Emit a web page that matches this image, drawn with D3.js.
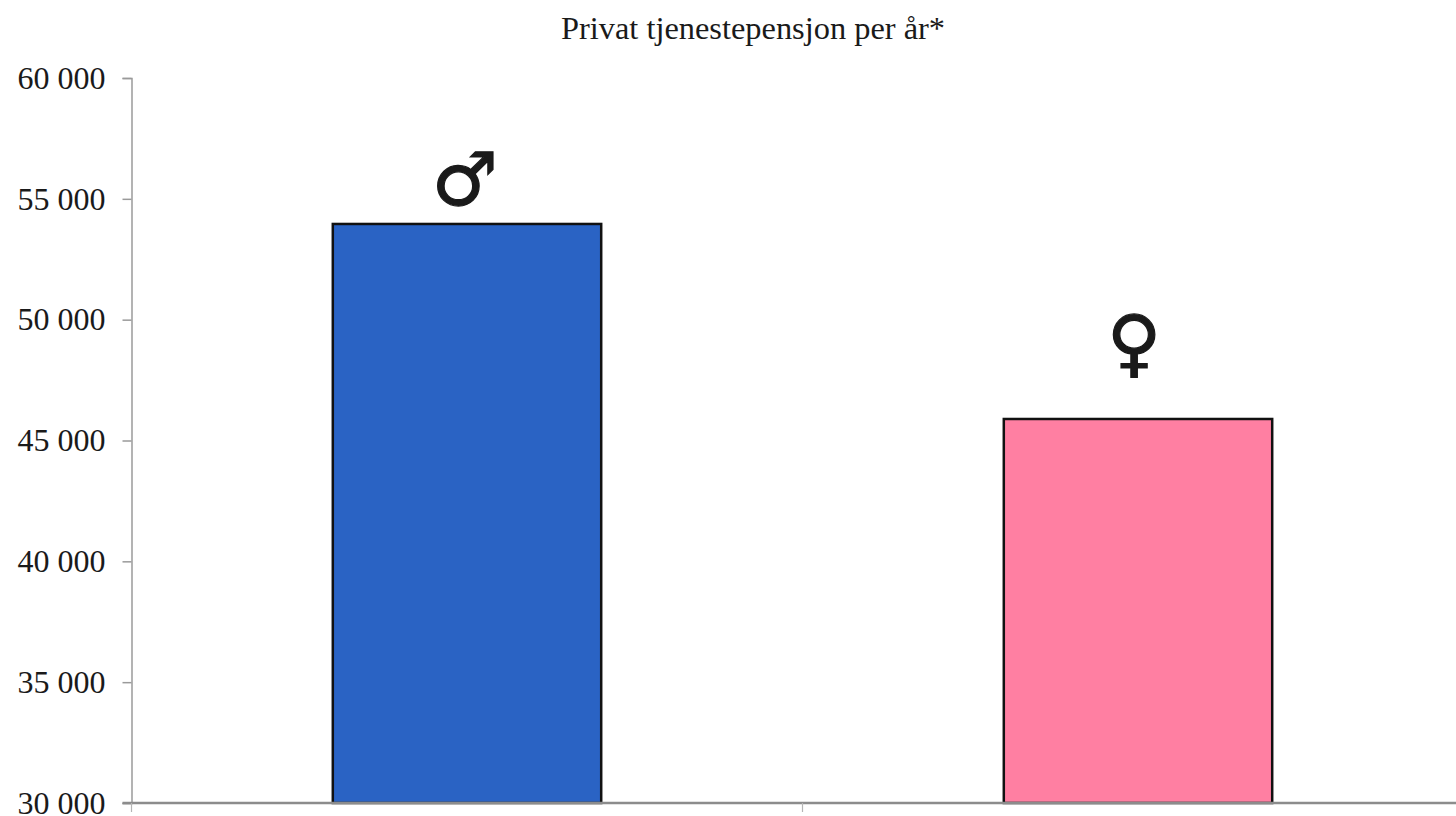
<!DOCTYPE html>
<html>
<head>
<meta charset="utf-8">
<script src="https://cdn.jsdelivr.net/npm/d3@7"></script>
<style>
html, body { margin: 0; padding: 0; background: #fff; overflow: hidden; }
text { font-family: "Liberation Serif", serif; fill: #1a1a1a; }
</style>
</head>
<body>
<svg></svg>
<script>
// data
var categories = ["Menn", "Kvinner"];
var values = [53960, 45890];
var symbols = ["\u2642", "\u2640"];
var colors = ["#2a63c4", "#ff7fa2"];
var yTicks = [30000, 35000, 40000, 45000, 50000, 55000, 60000];
var title = "Privat tjenestepensjon per år*";

var svgWidth = 1456;
var svgHeight = 816;
var axisX = 131.5;
var yTop = 78;
var yBottom = 803;

var svg = d3.select("svg")
   .attr("width", svgWidth)
   .attr("height", svgHeight);

var x = d3.scaleBand()
   .domain(categories)
   .range([axisX, axisX + 1342])
   .paddingInner(0.6)
   .paddingOuter(0.3);

var y = d3.scaleLinear()
   .domain([30000, 60000])
   .range([yBottom, yTop]);

var fmt = function(d) {
   return d3.format(",")(d).replace(",", " ");
};

svg.append("text")
   .attr("x", 753)
   .attr("y", 39)
   .attr("text-anchor", "middle")
   .style("font-size", "32.4px")
   .text(title);

// bars
svg.selectAll("rect.bar")
   .data(categories)
   .enter()
   .append("rect")
   .attr("class", "bar")
   .attr("x", function(d) { return x(d); })
   .attr("y", function(d, i) { return y(values[i]); })
   .attr("width", x.bandwidth())
   .attr("height", function(d, i) { return yBottom - y(values[i]); })
   .attr("fill", function(d, i) { return colors[i]; })
   .attr("stroke", "#111")
   .attr("stroke-width", 2.5);

// y axis
var yAxis = svg.append("g")
   .attr("transform", "translate(" + axisX + ",0)")
   .call(d3.axisLeft(y).tickValues(yTicks).tickFormat(fmt).tickSize(9).tickPadding(17));
yAxis.selectAll("path, line").attr("stroke", "#9a9a9a").attr("stroke-width", 1.5);
yAxis.selectAll("text")
   .style("font-size", "32px")
   .attr("dy", "0.32em");

// x axis line with the tick between the bars
var xAxis = svg.append("g").attr("transform", "translate(0," + yBottom + ")");
xAxis.append("line")
   .attr("x1", axisX - 9).attr("x2", svgWidth)
   .attr("stroke", "#8c8c8c").attr("stroke-width", 2.5);
xAxis.selectAll("line.tick")
   .data([axisX, (x(categories[0]) + x(categories[1]) + x.bandwidth()) / 2])
   .enter()
   .append("line")
   .attr("class", "tick")
   .attr("x1", function(d) { return d; })
   .attr("x2", function(d) { return d; })
   .attr("y1", 0).attr("y2", 9)
   .attr("stroke", "#b5b5b5").attr("stroke-width", 1.2);

// gender symbols above the bars, the female one sits higher over its bar
svg.selectAll("text.symbol")
   .data(categories)
   .enter()
   .append("text")
   .attr("class", "symbol")
   .attr("x", function(d, i) { return x(d) + x.bandwidth() / 2 - (i == 0 ? 2 : 4); })
   .attr("y", function(d, i) { return y(values[i]) - (i == 0 ? 19 : 51); })
   .attr("text-anchor", "middle")
   .style("font-family", "'DejaVu Sans'")
   .style("font-size", "74px")
   .style("stroke", "#1a1a1a")
   .style("stroke-width", 1.2)
   .text(function(d, i) { return symbols[i]; });
</script>
</body>
</html>
